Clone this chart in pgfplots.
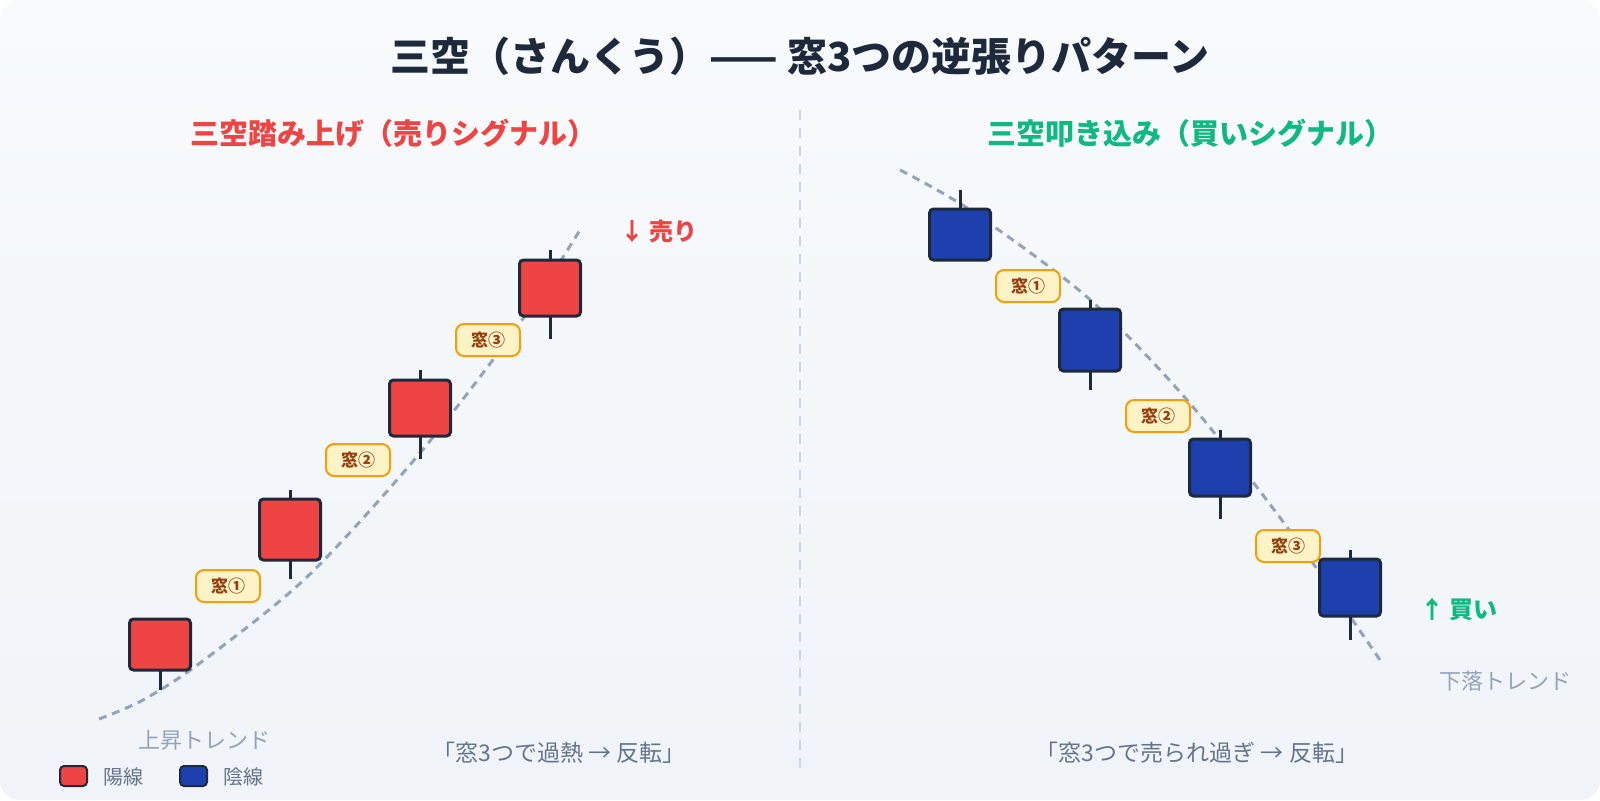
\documentclass[border=0pt]{standalone}
\usepackage{pgfplots}
\pgfplotsset{compat=1.18}
\usepackage{fontspec}
\setmainfont{Noto Sans CJK JP}

\definecolor{ink}{HTML}{1E293B}
\definecolor{upred}{HTML}{EF4444}
\definecolor{downblue}{HTML}{1E40AF}
\definecolor{buygreen}{HTML}{10B981}
\definecolor{trendgrey}{HTML}{94A3B8}
\definecolor{notegrey}{HTML}{64748B}
\definecolor{divider}{HTML}{CBD5E1}
\definecolor{winfill}{HTML}{FEF3C7}
\definecolor{windraw}{HTML}{F59E0B}
\definecolor{wintext}{HTML}{92400E}
\definecolor{bgtop}{HTML}{F8FAFC}
\definecolor{bgbot}{HTML}{F0F4F8}

\tikzset{win/.style={draw=windraw, fill=winfill, line width=1pt, rounded corners=4pt,
    minimum width=32pt, minimum height=16pt, inner sep=0pt,
    text=wintext, font=\bfseries\fontsize{8.5}{10}\selectfont}}

% candle: centre, left, right, body top, body bottom, high, low, colour  (pixel units, y down)
\newcommand{\candle}[8]{%
  \addplot[ink, line width=1.5pt] coordinates {(#1,#6)(#1,#7)};
  \addplot[fill=#8, draw=ink, line width=1.5pt, rounded corners=2pt]
    coordinates {(#2,#4)(#3,#4)(#3,#5)(#2,#5)} -- cycle;
}

\begin{document}
\begin{tikzpicture}
\fill[white] (0,0) rectangle (800pt,400pt);
\shade[top color=bgtop, bottom color=bgbot, rounded corners=10pt]
  (0,0) rectangle (800pt,400pt);

\begin{axis}[
  at={(0,0)}, anchor=south west,
  width=800pt, height=400pt, scale only axis,
  xmin=0, xmax=1600, ymin=0, ymax=800,
  y dir=reverse, hide axis, clip=false,
]
% trend curves
\addplot[trendgrey, line width=1.5pt, dash pattern=on 4pt off 3pt, smooth]
  coordinates {(99,719)(143,700)(200,663)(307,577)(420,453)(517,327)(580,230)};
\addplot[trendgrey, line width=1.5pt, dash pattern=on 4pt off 3pt, smooth]
  coordinates {(900,170)(970,210)(1087,297)(1187,400)(1287,527)(1380,660)};

% divider
\addplot[divider, line width=1pt, dash pattern=on 5pt off 4pt]
  coordinates {(800,110)(800,775)};

% left: rising candles
\candle{160}{129.5}{190.5}{619}{670}{619}{690}{upred}
\candle{290}{259.5}{320.5}{499}{560}{490}{579}{upred}
\candle{420}{389.5}{450.5}{380}{436}{370}{459}{upred}
\candle{550}{519.5}{580.5}{260}{316}{250}{339}{upred}

% right: falling candles
\candle{960}{929.5}{990.5}{209}{260}{190}{260}{downblue}
\candle{1090}{1059.5}{1120.5}{309}{371}{300}{390}{downblue}
\candle{1220}{1189.5}{1250.5}{439}{496}{430}{519}{downblue}
\candle{1350}{1319.5}{1380.5}{559}{616}{550}{640}{downblue}

% windows
\node[win] at (axis cs:228,586) {窓①};
\node[win] at (axis cs:358,460) {窓②};
\node[win] at (axis cs:488,340) {窓③};
\node[win] at (axis cs:1028,286) {窓①};
\node[win] at (axis cs:1158,416) {窓②};
\node[win] at (axis cs:1288,546) {窓③};

% titles
\node[text=ink, font=\bfseries\fontsize{20}{23}\selectfont] at (axis cs:800,56)
  {三空（さんくう）—— 窓3つの逆張りパターン};
\node[text=upred, font=\bfseries\fontsize{14.5}{17}\selectfont] at (axis cs:393,133)
  {三空踏み上げ（売りシグナル）};
\node[text=buygreen, font=\bfseries\fontsize{14.5}{17}\selectfont] at (axis cs:1190,133)
  {三空叩き込み（買いシグナル）};

% signals
\node[text=upred, font=\bfseries\fontsize{12}{14}\selectfont] at (axis cs:659,231) {↓ 売り};
\node[text=buygreen, font=\bfseries\fontsize{12}{14}\selectfont] at (axis cs:1459,610) {↑ 買い};

% trend labels
\node[text=trendgrey, font=\fontsize{11}{13}\selectfont] at (axis cs:204,740) {上昇トレンド};
\node[text=trendgrey, font=\fontsize{11}{13}\selectfont] at (axis cs:1505,681) {下落トレンド};

% notes
\node[text=notegrey, font=\fontsize{11.5}{13}\selectfont] at (axis cs:559,753) {「窓3つで過熱 → 反転」};
\node[text=notegrey, font=\fontsize{11.5}{13}\selectfont] at (axis cs:1197,753) {「窓3つで売られ過ぎ → 反転」};

% legend
\addplot[fill=upred, draw=ink, line width=1pt, rounded corners=2pt]
  coordinates {(60,766)(87,766)(87,786)(60,786)} -- cycle;
\node[anchor=west, text=notegrey, font=\fontsize{10}{12}\selectfont] at (axis cs:96,777) {陽線};
\addplot[fill=downblue, draw=ink, line width=1pt, rounded corners=2pt]
  coordinates {(180,766)(207,766)(207,786)(180,786)} -- cycle;
\node[anchor=west, text=notegrey, font=\fontsize{10}{12}\selectfont] at (axis cs:216,777) {陰線};
\end{axis}
\end{tikzpicture}
\end{document}
